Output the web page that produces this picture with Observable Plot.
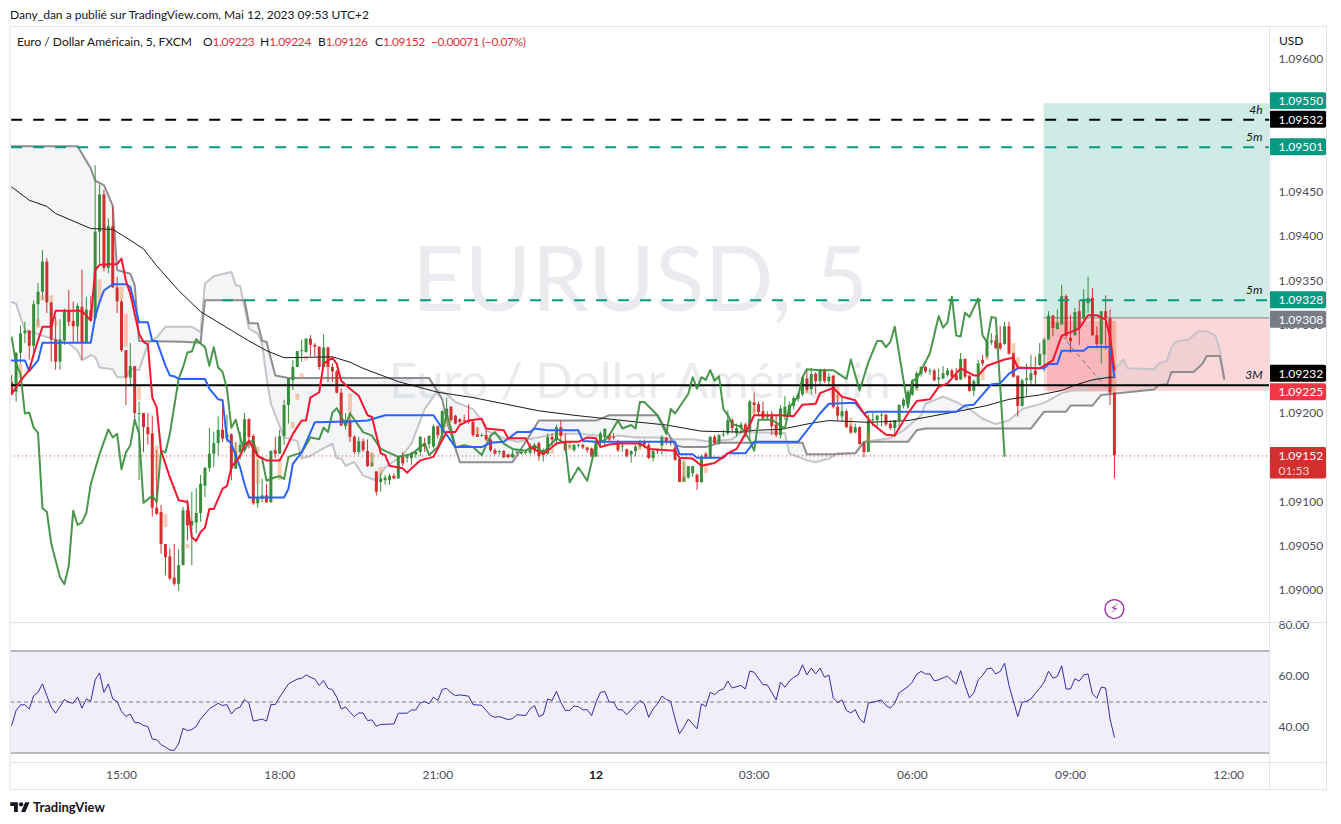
<!DOCTYPE html>
<html lang="fr"><head><meta charset="utf-8"><title>EURUSD 5</title>
<script src="https://cdn.jsdelivr.net/npm/d3@7"></script>
<script src="https://cdn.jsdelivr.net/npm/@observablehq/plot@0.6"></script>
<style>
html,body{margin:0;padding:0;background:#fff;overflow:hidden}
#page{position:relative;width:1341px;height:824px;font-family:Lato,"Noto Sans",sans-serif;color:#131722;font-size:12px}
#page svg{display:block}
.abs{position:absolute;white-space:nowrap}
.frame{position:absolute;background:#e0e3eb}
.rd{color:#e0313b;letter-spacing:-.4px}
.lg{position:absolute;top:34px;white-space:nowrap}
#plots{position:absolute;left:0;top:27px}
</style></head><body>
<div id="page">
<div id="plots"></div>
<div class="frame" style="left:9px;top:26px;width:2px;height:764px;background:#eef0f6"></div>
<div class="frame" style="left:10px;top:26px;width:1316px;height:1px"></div>
<div class="frame" style="left:10px;top:622px;width:1316px;height:1px"></div>
<div class="frame" style="left:10px;top:762px;width:1316px;height:1px"></div>
<div class="frame" style="left:10px;top:789px;width:1316px;height:1px"></div>
<div class="frame" style="left:1269px;top:27px;width:1px;height:763px"></div>
<div class="frame" style="left:1326px;top:26px;width:1px;height:764px"></div>
<div class="abs" style="left:10px;top:7px">Dany_dan a publié sur TradingView.com, Mai 12, 2023 09:53 UTC+2</div>
<div class="lg" style="left:17px">Euro / Dollar Américain, 5, FXCM</div>
<div class="lg" style="left:203px">O<span class="rd">1.09223</span></div>
<div class="lg" style="left:260px">H<span class="rd">1.09224</span></div>
<div class="lg" style="left:318px">B<span class="rd">1.09126</span></div>
<div class="lg" style="left:375px">C<span class="rd">1.09152</span></div>
<div class="lg" style="left:431px"><span class="rd">−0.00071 (−0.07%)</span></div>
<div class="abs" style="left:1279px;top:33px">USD</div>
<svg class="abs" style="left:10px;top:800px" width="20" height="13" viewBox="0 0 36 24"><path fill="#131722" d="M14 22H7V11H0V4h14v18zM28 22h-8l7.5-18h8L28 22z"/><circle fill="#131722" cx="20" cy="8" r="4"/></svg>
<div class="abs" style="left:33px;top:799px;font-size:13px;font-weight:700">TradingView</div>
</div>
<script>
// Prices are given in 1e-5 above 1.09000 (232 = 1.09232). Bars: index 0 = 15:00, 5 minutes each.
const firstBar = -25;
const opens = [235,224,268,290,293,276,323,337,371,325,
283,258,282,315,304,298,320,279,316,307,
405,447,364,411,342,326,271,240,253,199,
200,184,177,93,88,52,38,14,7,28,
90,73,76,87,118,138,154,166,181,171,
176,137,156,164,193,174,98,103,107,99,
158,154,174,209,237,252,270,269,284,277,
275,252,274,252,247,223,186,192,173,156,
168,157,140,134,122,124,124,129,126,151,
149,149,153,156,166,165,162,185,177,196,
207,197,193,192,192,190,176,174,175,170,
158,156,157,153,150,155,154,155,155,163,
166,153,154,173,170,184,168,162,158,163,
164,161,160,151,168,173,175,173,168,162,
159,153,157,162,168,164,149,158,163,172,
168,161,148,122,127,132,130,122,154,149,
173,166,175,177,192,177,183,187,181,212,
210,202,195,197,187,175,196,197,208,216,
221,239,227,244,236,249,236,242,207,196,
202,185,178,184,166,156,192,192,197,198,
188,183,192,208,210,221,228,244,252,247,
248,238,239,243,248,243,238,261,242,225,
231,260,264,280,282,279,278,298,268,242,
208,237,237,248,254,266,283,310,295,300,
332,285,288,315,307,324,330,288,278,315,
307,223];
const highs = [243,269,299,303,294,327,347,384,375,326,
309,306,318,339,326,324,362,331,332,480,
458,452,420,433,354,328,271,279,253,213,
200,200,197,158,96,52,47,52,46,94,
102,111,115,130,139,183,179,196,210,198,
177,167,179,200,194,176,147,126,120,158,
173,181,215,239,260,270,283,285,288,279,
275,289,275,256,249,228,200,201,175,173,
171,170,154,134,132,130,131,132,151,156,
154,156,158,174,172,175,187,186,203,217,
208,198,194,198,210,191,184,177,181,172,
160,158,158,154,158,158,160,159,166,166,
168,160,177,177,187,192,177,164,165,165,
165,162,161,170,179,183,176,177,170,168,
160,158,164,170,170,166,159,160,175,173,
170,163,149,145,140,140,132,153,156,174,
175,176,181,203,194,188,190,189,215,223,
213,213,202,202,198,209,219,213,219,222,
242,250,251,246,250,250,245,243,221,219,
204,188,188,185,167,198,200,198,200,199,
192,192,210,217,226,238,247,253,253,251,
250,250,253,251,250,251,268,262,243,238,
260,266,283,290,288,298,303,303,268,243,
239,256,266,264,279,285,315,311,317,345,
334,311,319,328,340,354,341,298,315,333,
317,224];
const lows = [220,213,256,279,260,264,298,328,313,258,
249,249,277,298,279,279,260,279,305,307,
369,360,358,341,313,269,209,230,188,124,
156,164,83,85,41,17,11,5,-1,28,
56,28,64,77,105,134,139,152,167,167,
124,137,147,156,160,96,93,99,99,99,
149,154,164,188,226,252,258,268,264,264,
249,252,235,235,222,185,181,167,154,153,
156,139,139,107,111,119,119,125,126,140,
144,141,149,151,156,160,160,171,170,194,
190,187,188,189,188,173,173,173,168,156,
153,153,149,149,149,154,153,153,153,154,
146,145,153,163,163,168,156,160,156,161,
159,155,150,150,162,162,168,170,156,156,
150,144,151,160,160,148,145,154,153,164,
163,146,122,122,126,128,113,121,148,148,
164,164,173,175,177,173,177,173,170,200,
196,192,192,175,173,171,192,196,204,213,
219,223,221,222,231,234,230,205,191,190,
183,176,177,164,150,156,185,183,185,185,
181,173,181,205,205,219,226,241,245,243,
236,232,238,241,239,237,237,239,224,219,
230,253,262,277,273,271,277,266,240,196,
207,219,232,233,253,247,283,287,294,300,
283,268,287,277,305,313,287,273,256,272,
209,126];
const closes = [222,268,290,293,276,323,337,371,325,283,
258,283,315,303,298,321,279,317,305,405,
447,364,411,342,326,271,240,253,200,200,
184,176,93,86,52,37,13,7,28,90,
73,78,87,120,138,154,166,181,171,176,
137,156,164,193,173,98,105,107,99,157,
154,174,209,239,252,270,271,284,277,275,
252,274,252,247,223,186,192,173,156,168,
158,140,144,111,126,127,129,126,151,143,
151,155,156,173,162,174,185,175,202,205,
192,188,190,191,190,175,173,175,170,158,
154,157,150,150,154,156,156,156,162,158,
151,158,173,170,184,174,158,163,164,164,
161,158,152,168,177,182,170,172,158,163,
151,157,162,168,164,149,157,157,173,167,
166,147,122,128,140,140,122,151,149,173,
166,175,176,192,183,183,187,179,213,209,
201,194,197,185,175,205,207,209,217,221,
240,226,244,236,249,236,241,207,197,202,
184,178,184,165,156,192,193,197,198,187,
183,192,209,215,224,236,245,252,247,248,
237,240,245,248,241,237,261,241,225,236,
256,256,281,282,273,273,298,267,241,208,
237,239,245,243,267,283,310,296,302,332,
287,281,314,296,329,330,288,278,315,307,
223,152];
const tenkan = [[-25,222],[-23,237],[-21,249],[-20,267],[-18,298],[-16,298],[-15,316],[-9,316],[-7,305],[-6,362],[-5,368],[-1,369],[0,375],[1,350],[2,335],[4,290],[5,281],[6,278],[7,218],[8,207],[9,158],[11,128],[13,102],[15,100],[16,60],[17,56],[18,66],[19,71],[20,92],[21,92],[23,115],[24,118],[25,139],[27,152],[28,164],[29,169],[31,152],[33,147],[36,147],[37,156],[39,177],[41,192],[42,192],[43,218],[45,224],[46,256],[48,263],[49,256],[50,237],[52,228],[54,220],[56,198],[57,196],[59,155],[60,153],[61,141],[64,138],[65,133],[66,138],[68,147],[71,151],[73,170],[74,179],[76,179],[77,187],[79,192],[82,194],[83,183],[87,181],[88,172],[92,172],[93,162],[96,154],[99,166],[101,168],[104,168],[106,173],[108,172],[109,162],[111,165],[113,166],[118,166],[120,160],[126,158],[127,150],[130,149],[132,141],[135,144],[137,151],[138,155],[140,160],[142,177],[144,198],[150,198],[153,197],[155,210],[158,211],[159,223],[162,229],[164,219],[167,215],[169,200],[171,188],[174,176],[176,175],[179,200],[181,214],[184,216],[186,230],[188,234],[191,251],[194,243],[195,243],[197,254],[201,261],[203,263],[204,252],[209,251],[212,260],[214,288],[216,292],[218,296],[220,311],[222,311],[224,306],[225,287],[226,249]];
const kijun = [[-25,260],[-22,260],[-21,248],[-19,260],[-18,280],[-7,280],[-6,309],[-5,326],[-4,339],[-2,346],[1,346],[2,343],[4,303],[6,303],[7,282],[8,282],[10,254],[11,243],[12,242],[13,239],[19,239],[20,228],[22,216],[23,215],[24,171],[25,166],[27,139],[28,120],[29,105],[37,105],[38,115],[39,143],[41,156],[44,190],[52,191],[56,192],[60,198],[71,198],[73,183],[76,162],[82,162],[84,167],[87,168],[90,179],[93,179],[94,183],[97,181],[104,181],[105,169],[108,168],[126,168],[127,154],[130,154],[131,150],[137,150],[138,155],[142,155],[144,168],[154,168],[157,187],[159,200],[161,211],[167,212],[169,200],[170,202],[190,202],[192,209],[194,210],[198,233],[200,234],[202,245],[204,251],[210,251],[211,256],[213,256],[214,271],[219,271],[220,275],[225,275],[226,241]];
const chikou = [[-25,286],[-24,256],[-23,245],[-22,200],[-21,201],[-20,184],[-19,178],[-18,93],[-17,89],[-16,53],[-14,15],[-13,7],[-12,28],[-11,90],[-10,74],[-9,77],[-8,88],[-7,120],[-5,154],[-3,182],[-2,173],[-1,177],[0,137],[1,156],[2,164],[3,193],[4,177],[5,99],[7,107],[8,100],[9,158],[10,156],[11,177],[13,239],[14,252],[15,269],[16,270],[17,284],[18,279],[19,275],[20,254],[21,275],[22,252],[23,247],[24,228],[25,184],[26,193],[27,173],[28,158],[29,168],[30,169],[31,152],[32,149],[33,124],[35,128],[36,129],[37,126],[38,151],[41,156],[43,173],[45,171],[46,184],[47,179],[48,201],[49,206],[50,197],[51,186],[52,200],[55,179],[57,175],[59,160],[63,151],[66,154],[68,162],[69,166],[70,153],[72,162],[73,177],[74,200],[75,183],[76,162],[78,164],[80,162],[82,153],[84,175],[85,179],[87,166],[89,160],[92,158],[94,164],[96,156],[99,172],[101,166],[102,122],[104,139],[106,124],[108,166],[110,170],[111,175],[113,192],[114,183],[116,187],[117,183],[118,213],[119,213],[122,198],[124,177],[125,205],[126,200],[129,222],[130,241],[131,228],[132,241],[133,238],[134,249],[135,237],[136,242],[137,205],[138,198],[139,188],[141,185],[143,170],[144,158],[145,193],[148,193],[151,183],[152,207],[154,219],[155,241],[156,250],[159,249],[162,249],[165,239],[166,261],[168,226],[170,258],[172,282],[173,282],[174,275],[175,281],[176,298],[179,207],[180,237],[181,239],[184,268],[186,310],[187,297],[188,303],[189,332],[190,288],[191,287],[192,314],[193,309],[195,330],[196,288],[197,281],[198,309],[199,308],[201,152]];
const senkouA = [[-25,326],[-24,324],[-23,309],[-22,294],[-12,279],[-10,271],[-9,260],[-7,266],[-6,264],[-5,252],[-2,250],[-1,241],[1,241],[2,250],[4,249],[5,264],[6,279],[8,286],[10,298],[16,298],[18,292],[19,347],[21,355],[25,360],[26,345],[27,344],[29,296],[31,290],[32,279],[33,241],[34,211],[37,173],[40,169],[41,149],[43,152],[45,158],[48,166],[49,149],[50,149],[51,141],[53,145],[55,130],[58,124],[60,139],[64,153],[66,166],[68,192],[69,205],[72,226],[74,222],[76,213],[80,205],[82,192],[83,181],[87,172],[90,168],[94,172],[99,177],[104,177],[108,175],[111,173],[113,175],[117,173],[122,173],[126,171],[130,171],[134,168],[139,171],[141,179],[151,178],[152,155],[156,147],[158,145],[161,149],[163,155],[167,155],[169,168],[175,172],[178,181],[182,198],[183,211],[187,219],[190,213],[193,205],[196,194],[199,188],[202,192],[205,205],[210,212],[214,223],[218,228],[219,226],[222,241],[225,242],[226,251],[227,255],[228,261],[229,251],[235,250],[236,256],[238,260],[239,275],[240,281],[243,284],[245,293],[247,293],[249,288],[250,272],[251,239]];
const senkouB = [[-25,502],[-10,502],[-7,477],[-6,463],[-4,458],[-2,435],[-1,362],[2,358],[3,345],[4,282],[14,281],[18,280],[19,328],[28,328],[29,302],[31,302],[32,282],[33,281],[35,243],[38,240],[70,240],[73,216],[74,192],[77,145],[89,145],[92,168],[95,192],[108,192],[111,198],[122,198],[126,164],[128,162],[133,162],[136,167],[155,167],[156,154],[162,154],[167,155],[169,168],[179,168],[181,181],[183,183],[207,183],[210,202],[215,202],[216,209],[221,209],[223,221],[235,227],[236,232],[238,233],[239,247],[244,247],[246,256],[247,265],[250,265],[251,239]];
const ma200 = [[-25,456],[-21,441],[-17,434],[-15,426],[-7,409],[-2,408],[1,399],[5,386],[8,367],[13,339],[18,315],[25,294],[29,282],[33,271],[37,263],[48,264],[52,258],[55,251],[63,236],[72,224],[80,218],[95,203],[103,198],[118,190],[124,187],[132,180],[141,179],[144,181],[150,182],[157,189],[161,192],[170,190],[179,192],[191,203],[197,209],[202,216],[209,221],[214,226],[217,232],[221,238],[225,241],[226,241]];
const rsi = [[-25,40.8],[-24,46.7],[-23,48.9],[-22,48.9],[-21,47.3],[-20,52.5],[-19,53.8],[-18,57.1],[-17,52.5],[-16,48],[-15,45.6],[-14,48.2],[-13,51],[-12,49.9],[-11,49.5],[-10,51.9],[-9,47.6],[-8,51.2],[-7,50.3],[-6,58.7],[-5,61.4],[-4,53.8],[-3,57.1],[-2,51.2],[-1,50.2],[0,46.3],[1,44.3],[2,45.3],[3,41.9],[4,41.9],[5,40.8],[6,40.4],[7,35.5],[8,35.2],[9,33.3],[10,32.3],[11,31.2],[12,31],[13,33.6],[14,39.7],[15,38.8],[16,39.2],[17,40.4],[18,43.4],[19,45.3],[20,47.3],[22,49.5],[23,48.6],[24,49],[25,45.3],[26,47.3],[27,48],[28,51],[29,49.5],[30,42.5],[32,43.3],[33,42.5],[34,49],[35,49],[36,51.9],[37,54.5],[38,57.1],[40,59],[41,59.3],[42,60.6],[43,59.7],[44,59],[45,56.5],[46,58.4],[47,55.4],[48,54.8],[49,51.9],[50,47.3],[51,48],[52,46],[53,44.3],[54,45.7],[55,45.7],[56,42.7],[57,43],[58,40.5],[59,41.2],[62,41.4],[63,45.6],[65,45.6],[66,46.9],[67,46.9],[68,49.7],[69,50.2],[70,49.3],[71,51.9],[72,50.6],[73,54.9],[74,55.4],[75,53.6],[76,52.5],[77,52.8],[79,52.3],[80,49],[82,48.7],[84,44.7],[85,44],[86,44.3],[88,43.1],[89,43.5],[90,45],[92,44.7],[93,47.3],[94,48.6],[95,44.3],[96,45],[97,51.2],[98,50.6],[99,54.2],[100,49.9],[101,46.7],[102,46.7],[103,48.4],[104,48.2],[105,46.9],[106,47],[107,44.6],[108,49.9],[109,53.8],[110,54.1],[111,50],[112,49.9],[113,47],[114,46.9],[115,45],[116,46.9],[118,50.6],[119,49.3],[120,44],[121,47.3],[122,49.3],[123,52.3],[124,51],[125,50.2],[126,43.4],[127,37.5],[128,40.1],[129,43.3],[130,41.4],[131,39.5],[132,49.3],[133,48.2],[134,53.8],[135,52.9],[136,54.5],[137,55.1],[138,58.2],[139,55.5],[141,56.5],[142,55.1],[143,62.1],[144,61.7],[146,56.8],[147,56.7],[148,53.8],[149,50.8],[150,57.8],[151,55.8],[152,58.2],[153,59.7],[154,60.6],[155,64.6],[156,60.6],[157,63.3],[158,61],[159,63.3],[160,59.7],[161,60.6],[162,51.6],[163,49.8],[164,50.8],[165,46.7],[166,45.7],[167,47],[168,43.4],[169,41.8],[170,49.7],[171,49.9],[173,50.8],[174,48.6],[175,47.6],[176,49.5],[177,53.6],[179,56],[180,57.8],[181,61],[182,62],[183,61],[184,61],[185,58.3],[186,58.7],[188,60.2],[189,58.4],[190,57.1],[191,62.3],[192,56.5],[193,51.6],[194,53.6],[195,58.7],[196,60.4],[197,63],[198,63.3],[199,61],[200,62],[201,65.2],[202,56.5],[204,44.3],[205,49.9],[206,50.3],[207,51.2],[208,53.4],[209,55.4],[210,57.8],[211,62.1],[212,59.3],[213,60],[214,64.2],[215,55.1],[216,55.1],[217,59.1],[218,58.2],[219,60.6],[220,61],[221,53.2],[222,51.5],[223,55.8],[224,55.5],[225,43.4],[226,36.2]];
// Imbalance boxes: bar, top, bottom
const imbalances = [[-23,256,240],[-19,306,296],[-18,333,327],[-16,333,326],[-15,305,298],[-5,351,325],[0,343,328],[1,312,275],[4,230,215],[8,163,124],[10,86,71],[15,52,47],[26,167,154],[31,162,120],[36,149,124],[39,190,183],[40,222,215],[41,245,239],[42,264,259],[52,222,200],[57,156,140],[59,139,131],[74,195,184],[81,184,175],[98,160,154],[102,168,158],[111,175,170],[118,162,158],[128,147,122],[133,143,132],[144,207,198],[156,226,222],[163,230,213],[166,195,185],[170,177,167],[181,228,225],[196,252,237],[197,265,260],[203,279,266],[204,263,251],[226,304,223]];
const priceTicks = [1.09,1.0905,1.091,1.0915,1.092,1.0925,1.093,1.0935,1.094,1.0945,1.095,1.0955,1.096];
const rsiTicks = [40,60,80];
const timeTickHours = [0,3,6,9,12,15,18,21].map(h=>h*12);
const timeLabels = ["15:00","18:00","21:00","12","03:00","06:00","09:00","12:00"];
const levels = [
 {p:532,c:"#000",w:2,d:"11,11",from:firstBar,tag:"4h"},
 {p:501,c:"#089981",w:2,d:"11,11",from:firstBar,tag:"5m"},
 {p:328,c:"#089981",w:2,d:"11,11",from:23,tag:"5m"},
 {p:232,c:"#000",w:2,d:null,from:firstBar,tag:"3M"}
];
// "at" is where the price scale shows the tag, nudged so tags do not collide
const badges = [
 {at:553,t:"1.09550",c:"#089981"},{at:532,t:"1.09532",c:"#000"},{at:501,t:"1.09501",c:"#089981"},
 {at:328,t:"1.09328",c:"#089981"},{at:306,t:"1.09308",c:"#787b86"},{at:245,t:"1.09232",c:"#000"},
 {at:224,t:"1.09225",c:"#f23645"},{at:152,t:"1.09152",c:"#d32f2f"}
];

const price = p => 1.09 + p/1e5;
const barTime = i => new Date(Date.UTC(2023,4,11,15,0) + i*300000);
const pts = a => a.map(([i,p])=>({t:barTime(i),v:price(p)}));
const bars = opens.map((o,k)=>({t:barTime(firstBar+k),o:price(o),h:price(highs[k]),l:price(lows[k]),c:price(closes[k]),col:closes[k]>=o?"#388e3c":"#d32f2f"}));
const paneStart = barTime(-25.27), paneEnd = barTime(261.3), axisEnd = barTime(274.3), last = barTime(226);
const xDomain = [paneStart,paneEnd];
const font = "Lato,'Noto Sans',sans-serif";
const A = pts(senkouA), B = pts(senkouB);
const lineOf = (a,stroke,w,extra={}) => Plot.line(pts(a),{x:"t",y:"v",stroke,strokeWidth:w,...extra});
const half = 0.000096;
const tagged = levels.map(l=>({x1:barTime(l.from),y:price(l.p),...l}));
const axisStyle = {background:"transparent",fontFamily:font,fontSize:"12px",overflow:"visible",color:"#131722",fontVariant:"normal"};

const main = Plot.plot({
  width:1341,height:595,marginLeft:10,marginRight:72,marginTop:0,marginBottom:0,
  style:axisStyle,
  x:{type:"utc",domain:xDomain,axis:null},
  y:{domain:[1.089638,1.096362],axis:null},
  marks:[
    Plot.text(["EURUSD, 5"],{x:()=>barTime(118),y:()=>1.09349,text:d=>d,fontSize:91,fill:"#e9ebef",fontFamily:"Lato,sans-serif"}),
    Plot.text(["Euro / Dollar Américain"],{x:()=>barTime(118),y:()=>1.09235,text:d=>d,fontSize:49,fill:"#e9ebef",fontFamily:"Lato,sans-serif"}),
    Plot.rect([0],{x1:()=>barTime(210),x2:()=>paneEnd,y1:()=>price(308),y2:()=>price(550),fill:"#089981",fillOpacity:.2}),
    Plot.rect([0],{x1:()=>barTime(210),x2:()=>paneEnd,y1:()=>price(225),y2:()=>price(308),fill:"#f23645",fillOpacity:.2}),
    Plot.rect([0],{x1:()=>barTime(210.8),x2:()=>last,y1:()=>price(224),y2:()=>price(304),fill:"#f23645",fillOpacity:.2}),
    Plot.ruleY([price(308)],{x1:()=>barTime(210),x2:()=>paneEnd,stroke:"#787b86",strokeWidth:1}),
    Plot.line([...A,...[...B].reverse()],{x:"t",y:"v",fill:"#787b86",fillOpacity:.08,stroke:"none"}),
    Plot.line(A,{x:"t",y:"v",stroke:"#c4c4ca",strokeWidth:2}),
    Plot.line(B,{x:"t",y:"v",stroke:"#8e8e92",strokeWidth:2}),
    Plot.line(pts([[214,288],[225,224]]),{x:"t",y:"v",stroke:"#787b86",strokeWidth:1,strokeDasharray:"4,4"}),
    Plot.ruleY([price(152)],{x1:()=>paneStart,x2:()=>paneEnd,stroke:"#d32f2f",strokeWidth:1,strokeDasharray:"1,3"}),
    Plot.ruleX(bars,{x:"t",y1:"l",y2:"h",stroke:"col",strokeWidth:1}),
    Plot.ruleX(bars,{x:"t",y1:"o",y2:"c",stroke:"col",strokeWidth:3}),
    Plot.ruleX(imbalances,{x:d=>barTime(d[0]),y1:d=>price(d[1]),y2:d=>price(d[2]),stroke:"#ea8a4f",strokeOpacity:.42,strokeWidth:4}),
    lineOf(ma200,"#1c1c1c",1),
    ...tagged.map(l=>Plot.ruleY([l.y],{x1:()=>l.x1,x2:()=>paneEnd,stroke:l.c,strokeWidth:l.w,strokeDasharray:l.d})),
    lineOf(chikou,"#388e3c",2,{strokeOpacity:.92}),
    lineOf(kijun,"#2962ff",2),
    lineOf(tenkan,"#f7152f",2),
    Plot.text(tagged,{x:()=>paneEnd,y:"y",text:"tag",dx:-7,dy:-10,textAnchor:"end",fontStyle:"italic",fill:"#131722"}),
    Plot.dot([0],{x:()=>last,y:()=>price(-21),r:9.5,fill:"#fff",stroke:"#9c27b0",strokeWidth:1.3}),
    Plot.text(["⚡"],{x:()=>last,y:()=>price(-21),text:d=>d,fill:"#9c27b0",fontSize:13,fontFamily:"DejaVu Sans"}),
    Plot.axisY({anchor:"right",ticks:priceTicks,tickSize:0,tickPadding:9,label:null,tickFormat:d=>d.toFixed(5),fill:"#4a4e5a"}),
    Plot.rect(badges,{x1:()=>paneEnd,x2:()=>axisEnd,y1:d=>price(d.at)-half,y2:d=>price(d.at)+half,fill:"c",r:2}),
    Plot.rect([0],{x1:()=>paneEnd,x2:()=>axisEnd,y1:()=>price(159),y2:()=>price(126),fill:"#d32f2f",r:2}),
    Plot.text(badges,{x:()=>paneEnd,y:d=>price(d.at),text:"t",dx:9,textAnchor:"start",fill:"#fff"}),
    Plot.text(["01:53"],{x:()=>paneEnd,y:()=>price(135),text:d=>d,dx:9,textAnchor:"start",fill:"#f6cfcf"})
  ]
});

const pane = Plot.plot({
  width:1341,height:167,marginLeft:10,marginRight:72,marginTop:0,marginBottom:28,
  style:axisStyle,
  x:{type:"utc",domain:xDomain,axis:null},
  y:{domain:[26.67,81.18],axis:null},
  marks:[
    Plot.rect([0],{x1:()=>paneStart,x2:()=>paneEnd,y1:()=>30,y2:()=>70,fill:"#7e57c2",fillOpacity:.1}),
    Plot.ruleY([30,70],{x1:()=>paneStart,x2:()=>paneEnd,stroke:"#787b86",strokeWidth:1}),
    Plot.ruleY([50],{x1:()=>paneStart,x2:()=>paneEnd,stroke:"#787b86",strokeWidth:1,strokeDasharray:"4,3"}),
    Plot.line(rsi,{x:d=>barTime(d[0]),y:d=>d[1],stroke:"#2f2fa8",strokeWidth:1}),
    Plot.axisY({anchor:"right",ticks:rsiTicks,tickSize:0,tickPadding:9,label:null,tickFormat:d=>d.toFixed(2),fill:"#4a4e5a"}),
    Plot.axisX({anchor:"bottom",ticks:timeTickHours.map(barTime),tickSize:0,tickPadding:9,label:null,
      tickFormat:d=>timeLabels[timeTickHours.findIndex(b=>+barTime(b)===+d)],fill:"#4a4e5a"})
  ]
});
d3.select(pane).selectAll("text").filter(function(){return this.textContent==="12"}).style("font-weight","700").style("fill","#131722");
document.getElementById("plots").append(main,pane);
</script>
</body></html>
